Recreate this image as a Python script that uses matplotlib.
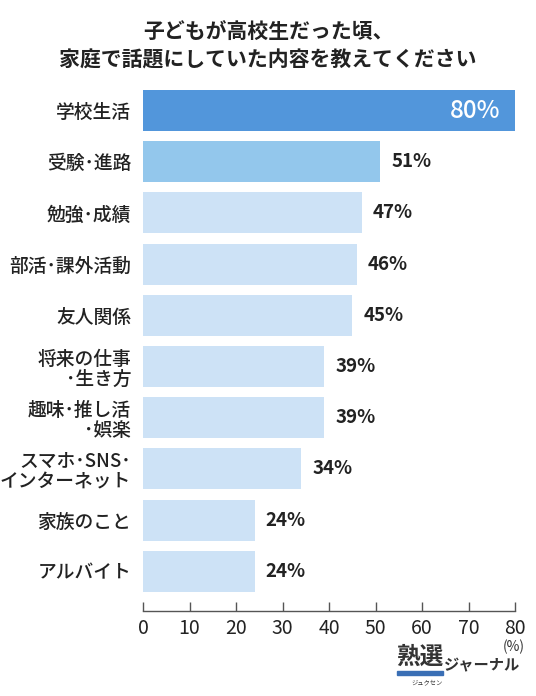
import matplotlib
matplotlib.use("Agg")
import matplotlib.pyplot as plt
from matplotlib.patches import Rectangle

plt.rcParams['font.family'] = ['Noto Sans CJK JP', 'DejaVu Sans']

title_lines = ["子どもが高校生だった頃、", "家庭で話題にしていた内容を教えてください"]
categories = ["学校生活", "受験･進路", "勉強･成績", "部活･課外活動", "友人関係",
              "将来の仕事\n･生き方", "趣味･推し活\n･娯楽", "スマホ･SNS･\nインターネット",
              "家族のこと", "アルバイト"]
values = [80, 51, 47, 46, 45, 39, 39, 34, 24, 24]
xticks = [0, 10, 20, 30, 40, 50, 60, 70, 80]

c_top = "#5296db"
c_second = "#93c7ec"
c_rest = "#cde2f6"
colors = [c_top, c_second] + [c_rest] * (len(values) - 2)
text_c = "#222222"

fig = plt.figure(figsize=(5.36, 6.96), dpi=100)
W, H = 536, 696
ax = fig.add_axes([143 / W, 1 - 610.7 / H, (515 - 143) / W, (610.7 - 87.5) / H])

ypos = list(range(len(categories)))
ax.barh(ypos, values, height=0.8, color=colors, zorder=2)
ax.set_xlim(0, 80)
ax.set_ylim(9.77, -0.45)

ax.set_yticks(ypos)
ax.set_yticklabels(categories, fontsize=13.5, color=text_c, linespacing=1.08,
                   fontweight='medium')
ax.tick_params(axis='y', length=0, pad=8.5)
for lab in ax.get_yticklabels():
    lab.set_horizontalalignment('right')

ax.set_xticks(xticks)
ax.set_xticklabels([str(t) for t in xticks], fontsize=14, color=text_c)
ax.tick_params(axis='x', direction='in', length=6.5, width=1, color="#555555", pad=5)

for s in ['top', 'right', 'left']:
    ax.spines[s].set_visible(False)
ax.spines['bottom'].set_color("#555555")
ax.spines['bottom'].set_linewidth(1)

for i, v in enumerate(values):
    if i == 0:
        ax.text(v - 3.2, i, f"{v}%", ha='right', va='center', color='white',
                fontsize=17.5, fontweight='medium')
    else:
        ax.text(v + 2.4, i, f"{v}%", ha='left', va='center', color=text_c,
                fontsize=13.5, fontweight='bold')

fig.text(268 / W, 1 - 32 / H, title_lines[0], ha='center', va='center',
         fontsize=15, fontweight='bold', color=text_c)
fig.text(268 / W, 1 - 60 / H, title_lines[1], ha='center', va='center',
         fontsize=15, fontweight='bold', color=text_c)

fig.text(514 / W, 1 - 647 / H, "(%)", ha='center', va='center', fontsize=10,
         color='#333333')

# logo
fig.text(419.5 / W, 1 - 657 / H, "熟選", ha='center', va='center', fontsize=17,
         fontweight='bold', color='#333333')
fig.patches.append(Rectangle((397 / W, 1 - 675 / H), 46 / W, 4 / H,
                             transform=fig.transFigure, color="#3a6fb5", zorder=3))
fig.text(427 / W, 1 - 682 / H, "ジュクセン", ha='center', va='center', fontsize=4.5,
         color='#333333')
fig.text(482.5 / W, 1 - 665 / H, "ジャーナル", ha='center', va='center', fontsize=11,
         fontweight='bold', color='#333333')

fig.savefig("out.png", dpi=100, facecolor='white')
